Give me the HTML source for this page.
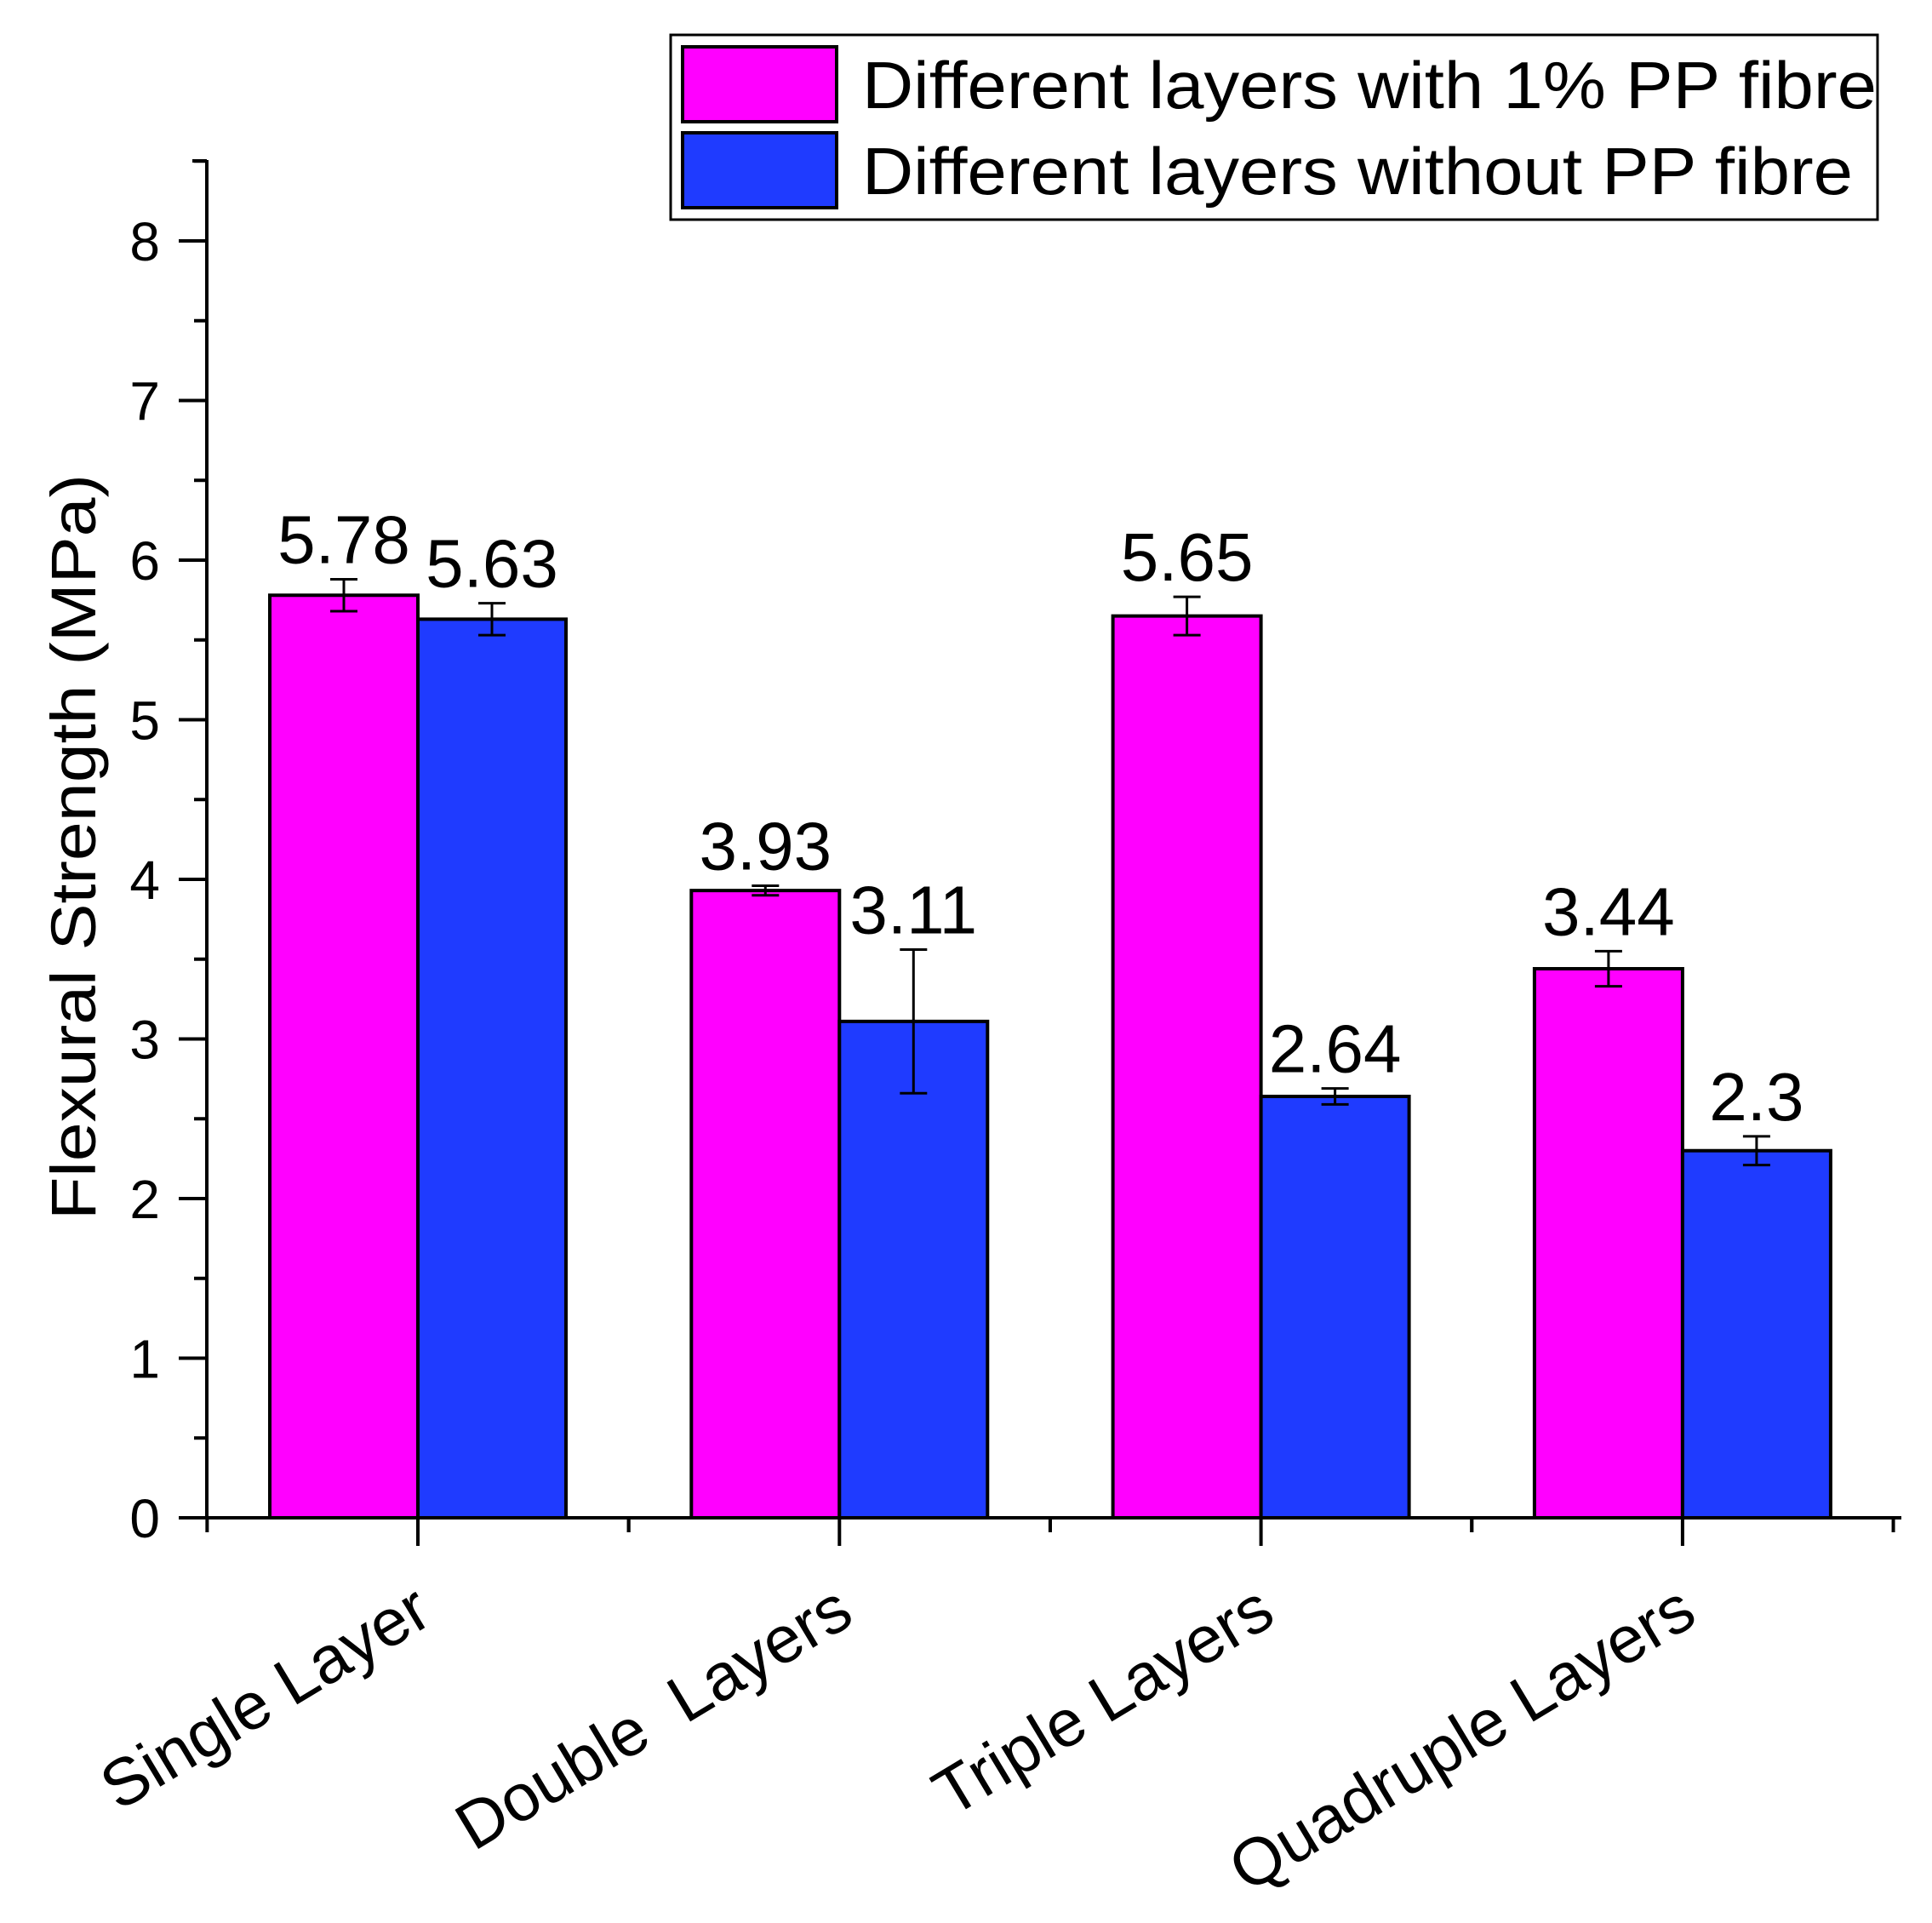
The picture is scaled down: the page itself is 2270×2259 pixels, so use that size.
<!DOCTYPE html>
<html><head><meta charset="utf-8"><style>html,body{margin:0;padding:0;background:#fff}svg{display:block}text{font-family:"Liberation Sans",Arial,sans-serif}</style></head>
<body>
<svg id="chart" width="2270" height="2259" viewBox="0 0 2270 2259" xmlns="http://www.w3.org/2000/svg">
<g id="plot"></g>
<g>
<rect x="788" y="41" width="1418" height="217" fill="#fff" stroke="#000" stroke-width="3"/>
<rect x="802" y="55" width="181" height="88" fill="#ff00ff" stroke="#000" stroke-width="4"/>
<rect x="802" y="156" width="181" height="88" fill="#1f3bff" stroke="#000" stroke-width="4"/>
<text x="1013" y="127" font-size="78" textLength="1192" lengthAdjust="spacingAndGlyphs">Different layers with 1% PP fibre</text>
<text x="1013" y="228" font-size="78" textLength="1164" lengthAdjust="spacingAndGlyphs">Different layers without PP fibre</text>
</g>
<text transform="translate(112,995) rotate(-90)" text-anchor="middle" font-size="74" textLength="876" lengthAdjust="spacingAndGlyphs">Flexural Strength (MPa)</text>
</svg>
<script>
const categories = ["Single Layer", "Double  Layers", "Triple Layers", "Quadruple Layers"];
const withFibre = [5.78, 3.93, 5.65, 3.44];
const withoutFibre = [5.63, 3.11, 2.64, 2.3];
const withFibreErr = [0.1, 0.03, 0.12, 0.11];
const withoutFibreErr = [0.1, 0.45, 0.05, 0.09];
const yTicks = [0, 1, 2, 3, 4, 5, 6, 7, 8];

const NS = "http://www.w3.org/2000/svg";
const plotG = document.getElementById('plot');
const y0 = 1783, perUnit = 187.5, xc0 = 491, step = 495.3, barW = 174;
const yScale = v => y0 - v * perUnit;
const xScale = i => xc0 + i * step;
function mk(tag, attrs) {
  const e = document.createElementNS(NS, tag);
  for (const k in attrs) e.setAttribute(k, attrs[k]);
  plotG.appendChild(e);
  return e;
}
categories.forEach((c, i) => {
  const cx = xScale(i);
  const series = [[withFibre[i], withFibreErr[i], '#ff00ff', cx - barW, 'bar-with-fibre'], [withoutFibre[i], withoutFibreErr[i], '#1f3bff', cx, 'bar-without-fibre']];
  series.forEach(s => {
    const [v, e, col, x, nm] = s;
    const r = mk('rect', {x: x, y: yScale(v), width: barW, height: yScale(0) - yScale(v), fill: col, stroke: '#000', 'stroke-width': 4});
    
    
    const mx = x + barW / 2;
    const eb = mk('path', {d: `M${mx-16},${yScale(v+e)}H${mx+16}M${mx},${yScale(v+e)}V${yScale(v-e)}M${mx-16},${yScale(v-e)}H${mx+16}`, stroke: '#000', 'stroke-width': 3, fill: 'none'});
    
    
    const t = mk('text', {x: mx, y: yScale(v + e) - 19, 'text-anchor': 'middle', 'font-size': 80});
    t.textContent = String(v);
    
    
  });
});
const axesPath = mk('path', {d: `M243,188V${y0}M226,${y0}H2234`, stroke: '#000', 'stroke-width': 4, fill: 'none'});


const yCap = mk('path', {d: 'M226,189H243', stroke: '#000', 'stroke-width': 4});


yTicks.forEach(v => {
  const tk = mk('path', {d: `M210,${yScale(v)}H243M228,${yScale(v+0.5)}H243`, stroke: '#000', 'stroke-width': 4});
  
  
  const t = mk('text', {x: 188, y: yScale(v) + 23, 'text-anchor': 'end', 'font-size': 64});
  t.textContent = String(v);
  
  
});
categories.forEach((c, i) => {
  const cx = xScale(i);
  const tk = mk('path', {d: `M${cx},${y0}V${y0+33}M${cx-step/2},${y0}V${y0+17}M${cx+step/2},${y0}V${y0+17}`, stroke: '#000', 'stroke-width': 4});
  
  
  const t = mk('text', {'text-anchor': 'end', 'font-size': 78, style: 'white-space:pre', transform: `translate(${cx+20},1905) rotate(-31)`});
  t.textContent = c;
  
  
});
</script>
</body></html>
